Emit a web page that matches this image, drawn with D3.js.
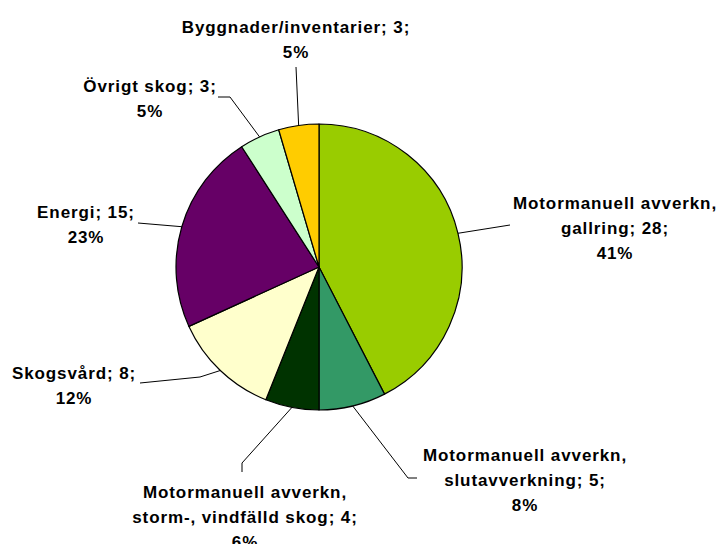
<!DOCTYPE html>
<html>
<head>
<meta charset="utf-8">
<script src="https://cdn.jsdelivr.net/npm/d3@7"></script>
<style>
  body { margin: 0; background: #fff; }
  text { font-family: "Liberation Sans", Arial, sans-serif; font-weight: bold; font-size: 17px; letter-spacing: 0.9px; fill: #000; }
</style>
</head>
<body>
<div id="chart-area"></div>
<script>
// data, clockwise from 12 o'clock
var categories = [
  "Motormanuell avverkn, gallring",
  "Motormanuell avverkn, slutavverkning",
  "Motormanuell avverkn, storm-, vindfälld skog",
  "Skogsvård",
  "Energi",
  "Övrigt skog",
  "Byggnader/inventarier"
];
var values = [28, 5, 4, 8, 15, 3, 3];
var percentLabels = ["41%", "8%", "6%", "12%", "23%", "5%", "5%"];
var labelLines = [
  ["Motormanuell avverkn,", "gallring; 28;", "41%"],
  ["Motormanuell avverkn,", "slutavverkning; 5;", "8%"],
  ["Motormanuell avverkn,", "storm-, vindfälld skog; 4;", "6%"],
  ["Skogsvård; 8;", "12%"],
  ["Energi; 15;", "23%"],
  ["Övrigt skog; 3;", "5%"],
  ["Byggnader/inventarier; 3;", "5%"]
];
var colors = ["#99cc00", "#339966", "#003300", "#ffffcc", "#660066", "#ccffcc", "#ffcc00"];

var width = 719, height = 544;
var cx = 319, cy = 267, radius = 143;

// label layout: text centre x, first baseline y, and leader polyline (after the pie point)
var labelPos = [
  { x: 615, y: 209, leader: [[510, 225]] },
  { x: 525, y: 461, leader: [[408, 478], [417, 478]] },
  { x: 245, y: 498, leader: [[242, 463], [242, 472]] },
  { x: 74,  y: 379, leader: [[200, 377], [140, 383]] },
  { x: 86,  y: 218, leader: [[138, 223]] },
  { x: 150, y: 92,  leader: [[230, 97], [218, 97]] },
  { x: 296, y: 33,  leader: [[296, 67]] }
];

var svg = d3.select("#chart-area")
  .append("svg")
  .attr("width", width)
  .attr("height", height);

var g = svg.append("g")
  .attr("transform", "translate(" + cx + "," + cy + ")");

var pie = d3.pie().sort(null).value(function (d) { return d; });
var arcs = pie(values);

var arc = d3.arc().innerRadius(0).outerRadius(radius);
var edge = d3.arc().innerRadius(radius).outerRadius(radius);

g.selectAll("path.slice")
  .data(arcs)
  .enter()
  .append("path")
  .attr("class", "slice")
  .attr("d", arc)
  .attr("fill", function (d, i) { return colors[i]; })
  .attr("stroke", "#000")
  .attr("stroke-width", 1.2)
  .attr("stroke-linejoin", "round");

// leader lines
arcs.forEach(function (d, i) {
  var c = edge.centroid(d);
  var pts = [[cx + c[0], cy + c[1]]].concat(labelPos[i].leader);
  svg.append("path")
    .attr("d", d3.line()(pts))
    .attr("fill", "none")
    .attr("stroke", "#000")
    .attr("stroke-width", 1);
});

// labels
labelLines.forEach(function (lines, i) {
  var t = svg.append("text")
    .attr("text-anchor", "middle")
    .attr("x", labelPos[i].x)
    .attr("y", labelPos[i].y);
  lines.forEach(function (line, j) {
    t.append("tspan")
      .attr("x", labelPos[i].x)
      .attr("dy", j === 0 ? 0 : 25)
      .text(line);
  });
});
</script>
</body>
</html>
